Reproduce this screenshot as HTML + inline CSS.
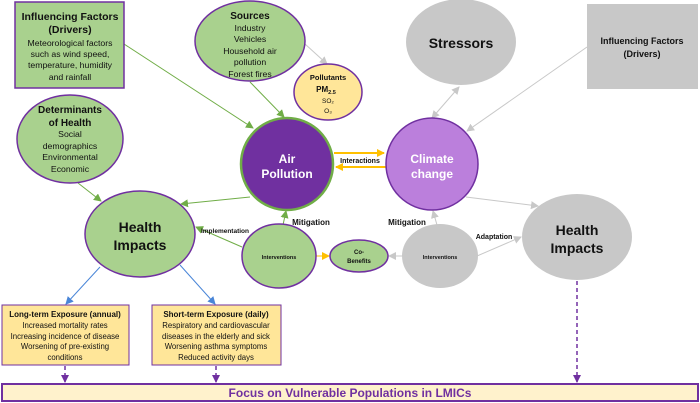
<!DOCTYPE html>
<html><head><meta charset="utf-8"><style>
html,body{margin:0;padding:0;background:#fff;}
svg{display:block;font-family:"Liberation Sans",sans-serif;}
</style></head><body>
<svg width="700" height="403" viewBox="0 0 700 403" xmlns="http://www.w3.org/2000/svg">
<defs>
<marker id="ag" markerWidth="8" markerHeight="8" refX="7" refY="4" orient="auto" markerUnits="userSpaceOnUse"><path d="M0,0 L8,4 L0,8 z" fill="#70ad47"/></marker>
<marker id="agr" markerWidth="8" markerHeight="8" refX="7" refY="4" orient="auto" markerUnits="userSpaceOnUse"><path d="M0,0 L8,4 L0,8 z" fill="#c8c8c8"/></marker>
<marker id="agrs" markerWidth="8" markerHeight="8" refX="1" refY="4" orient="auto" markerUnits="userSpaceOnUse"><path d="M8,0 L0,4 L8,8 z" fill="#c8c8c8"/></marker>
<marker id="ay" markerWidth="8" markerHeight="8" refX="7" refY="4" orient="auto" markerUnits="userSpaceOnUse"><path d="M0,0 L8,4 L0,8 z" fill="#ffc000"/></marker>
<marker id="ab" markerWidth="8" markerHeight="8" refX="7" refY="4" orient="auto" markerUnits="userSpaceOnUse"><path d="M0,0 L8,4 L0,8 z" fill="#4a86d8"/></marker>
<marker id="ap" markerWidth="8" markerHeight="8" refX="7" refY="4" orient="auto" markerUnits="userSpaceOnUse"><path d="M0,0 L8,4 L0,8 z" fill="#7030a0"/></marker>
</defs>

<g stroke-width="1">
<line x1="124" y1="44" x2="253" y2="128" stroke="#70ad47" marker-end="url(#ag)"/>
<line x1="250" y1="82" x2="284" y2="117" stroke="#70ad47" marker-end="url(#ag)"/>
<line x1="305" y1="44" x2="327" y2="64" stroke="#c8c8c8" marker-end="url(#agr)"/>
<line x1="78" y1="183" x2="101" y2="201" stroke="#70ad47" marker-end="url(#ag)"/>
<line x1="250" y1="197" x2="181" y2="204" stroke="#70ad47" marker-end="url(#ag)"/>
<line x1="283" y1="225" x2="286" y2="211" stroke="#70ad47" marker-end="url(#ag)"/>
<line x1="242" y1="247" x2="196" y2="227" stroke="#70ad47" marker-end="url(#ag)"/>
<line x1="316" y1="256" x2="329" y2="256" stroke="#ffc000" marker-end="url(#ay)"/>
<line x1="402" y1="256" x2="389" y2="256" stroke="#c8c8c8" marker-end="url(#agr)"/>
<line x1="437" y1="225" x2="433" y2="211" stroke="#c8c8c8" marker-end="url(#agr)"/>
<line x1="477" y1="256" x2="521" y2="237" stroke="#c8c8c8" marker-end="url(#agr)"/>
<line x1="466" y1="197" x2="538" y2="206" stroke="#c8c8c8" marker-end="url(#agr)"/>
<line x1="432" y1="118" x2="459" y2="87" stroke="#c8c8c8" marker-end="url(#agr)" marker-start="url(#agrs)"/>
<line x1="587" y1="47" x2="467" y2="131" stroke="#c8c8c8" marker-end="url(#agr)"/>
<line x1="100" y1="267" x2="66" y2="304" stroke="#4a86d8" marker-end="url(#ab)"/>
<line x1="180" y1="265" x2="215" y2="304" stroke="#4a86d8" marker-end="url(#ab)"/>
</g>
<g stroke="#ffc000" stroke-width="2">
<line x1="334" y1="153" x2="384" y2="153" marker-end="url(#ay)"/>
<line x1="386" y1="167" x2="336" y2="167" marker-end="url(#ay)"/>
</g>
<g stroke="#7030a0" stroke-width="1.5" stroke-dasharray="4,3">
<line x1="65" y1="366" x2="65" y2="382" marker-end="url(#ap)"/>
<line x1="216" y1="366" x2="216" y2="382" marker-end="url(#ap)"/>
<line x1="577" y1="281" x2="577" y2="382" marker-end="url(#ap)"/>
</g>

<rect x="15" y="2" width="109" height="86" fill="#a9d18e" stroke="#7030a0" stroke-width="1.5"/>
<ellipse cx="250" cy="41" rx="55" ry="40" fill="#a9d18e" stroke="#7030a0" stroke-width="1.5"/>
<ellipse cx="328" cy="92" rx="34" ry="28" fill="#ffe699" stroke="#7030a0" stroke-width="1.5"/>
<ellipse cx="70" cy="139" rx="53" ry="44" fill="#a9d18e" stroke="#7030a0" stroke-width="1.5"/>
<circle cx="287" cy="164" r="46" fill="#7030a0" stroke="#70ad47" stroke-width="2.5"/>
<circle cx="432" cy="164" r="46" fill="#bb7fdc" stroke="#7030a0" stroke-width="1.5"/>
<ellipse cx="461" cy="42" rx="55" ry="43" fill="#c8c8c8"/>
<rect x="587" y="4" width="111" height="85" fill="#c8c8c8"/>
<ellipse cx="577" cy="237" rx="55" ry="43" fill="#c8c8c8"/>
<ellipse cx="440" cy="256" rx="38" ry="32" fill="#c8c8c8"/>
<ellipse cx="359" cy="256" rx="29" ry="16" fill="#a9d18e" stroke="#7030a0" stroke-width="1.5"/>
<ellipse cx="279" cy="256" rx="37" ry="32" fill="#a9d18e" stroke="#7030a0" stroke-width="1.5"/>
<ellipse cx="140" cy="234" rx="55" ry="43" fill="#a9d18e" stroke="#7030a0" stroke-width="1.5"/>
<rect x="2" y="305" width="127" height="60" fill="#ffe699" stroke="#7030a0" stroke-width="1"/>
<rect x="152" y="305" width="129" height="60" fill="#ffe699" stroke="#7030a0" stroke-width="1"/>
<rect x="2" y="384" width="696" height="17" fill="#fff2cc" stroke="#7030a0" stroke-width="2"/>

<g text-anchor="middle" fill="#111">
<text x="70" y="20" font-size="10.5" font-weight="bold">Influencing Factors</text>
<text x="70" y="33" font-size="10.5" font-weight="bold">(Drivers)</text>
<text x="70" y="46" font-size="8.7">Meteorological factors</text>
<text x="70" y="57" font-size="8.7">such as wind speed,</text>
<text x="70" y="68" font-size="8.7">temperature, humidity</text>
<text x="70" y="80" font-size="8.7">and rainfall</text>

<text x="250" y="19" font-size="10" font-weight="bold">Sources</text>
<text x="250" y="31" font-size="8.7">Industry</text>
<text x="250" y="42" font-size="8.7">Vehicles</text>
<text x="250" y="54" font-size="8.7">Household air</text>
<text x="250" y="65" font-size="8.7">pollution</text>
<text x="250" y="77" font-size="8.7">Forest fires</text>

<text x="328" y="80" font-size="7.5" font-weight="bold">Pollutants</text>
<text x="326" y="92" font-size="8" font-weight="bold">PM<tspan font-size="5.5" dy="2">2.5</tspan></text>
<text x="328" y="103" font-size="6.5">SO₂</text>
<text x="328" y="113" font-size="6.5">O₃</text>

<text x="70" y="113" font-size="10" font-weight="bold">Determinants</text>
<text x="70" y="126" font-size="10" font-weight="bold">of Health</text>
<text x="70" y="137" font-size="8.7">Social</text>
<text x="70" y="149" font-size="8.7">demographics</text>
<text x="70" y="160" font-size="8.7">Environmental</text>
<text x="70" y="172" font-size="8.7">Economic</text>

<text x="287" y="163" font-size="12" font-weight="bold" fill="#fff">Air</text>
<text x="287" y="178" font-size="12" font-weight="bold" fill="#fff">Pollution</text>
<text x="432" y="163" font-size="12" font-weight="bold" fill="#fff">Climate</text>
<text x="432" y="178" font-size="12" font-weight="bold" fill="#fff">change</text>
<text x="360" y="163" font-size="7" font-weight="bold">Interactions</text>

<text x="461" y="48" font-size="14" font-weight="bold">Stressors</text>
<text x="642" y="44" font-size="9" font-weight="bold">Influencing Factors</text>
<text x="642" y="57" font-size="9" font-weight="bold">(Drivers)</text>

<text x="577" y="235" font-size="14" font-weight="bold">Health</text>
<text x="577" y="253" font-size="14" font-weight="bold">Impacts</text>
<text x="140" y="232" font-size="14" font-weight="bold">Health</text>
<text x="140" y="250" font-size="14" font-weight="bold">Impacts</text>

<text x="279" y="259" font-size="5.5" font-weight="bold">Interventions</text>
<text x="440" y="259" font-size="5.5" font-weight="bold">Interventions</text>
<text x="359" y="254" font-size="6" font-weight="bold">Co-</text>
<text x="359" y="263" font-size="6" font-weight="bold">Benefits</text>

<text x="311" y="225" font-size="8" font-weight="bold">Mitigation</text>
<text x="407" y="225" font-size="8" font-weight="bold">Mitigation</text>
<text x="494" y="239" font-size="7" font-weight="bold">Adaptation</text>
<text x="225" y="233" font-size="6.5" font-weight="bold">Implementation</text>

<text x="65" y="317" font-size="8" font-weight="bold">Long-term Exposure (annual)</text>
<text x="65" y="328" font-size="7.8">Increased mortality rates</text>
<text x="65" y="339" font-size="7.8">Increasing incidence of disease</text>
<text x="65" y="349" font-size="7.8">Worsening of pre-existing</text>
<text x="65" y="360" font-size="7.8">conditions</text>
<text x="216" y="317" font-size="8" font-weight="bold">Short-term Exposure (daily)</text>
<text x="216" y="328" font-size="7.8">Respiratory and cardiovascular</text>
<text x="216" y="339" font-size="7.8">diseases in the elderly and sick</text>
<text x="216" y="349" font-size="7.8">Worsening asthma symptoms</text>
<text x="216" y="360" font-size="7.8">Reduced activity days</text>

<text x="350" y="397" font-size="12" font-weight="bold" fill="#7030a0">Focus on Vulnerable Populations in LMICs</text>
</g>
</svg>
</body></html>
